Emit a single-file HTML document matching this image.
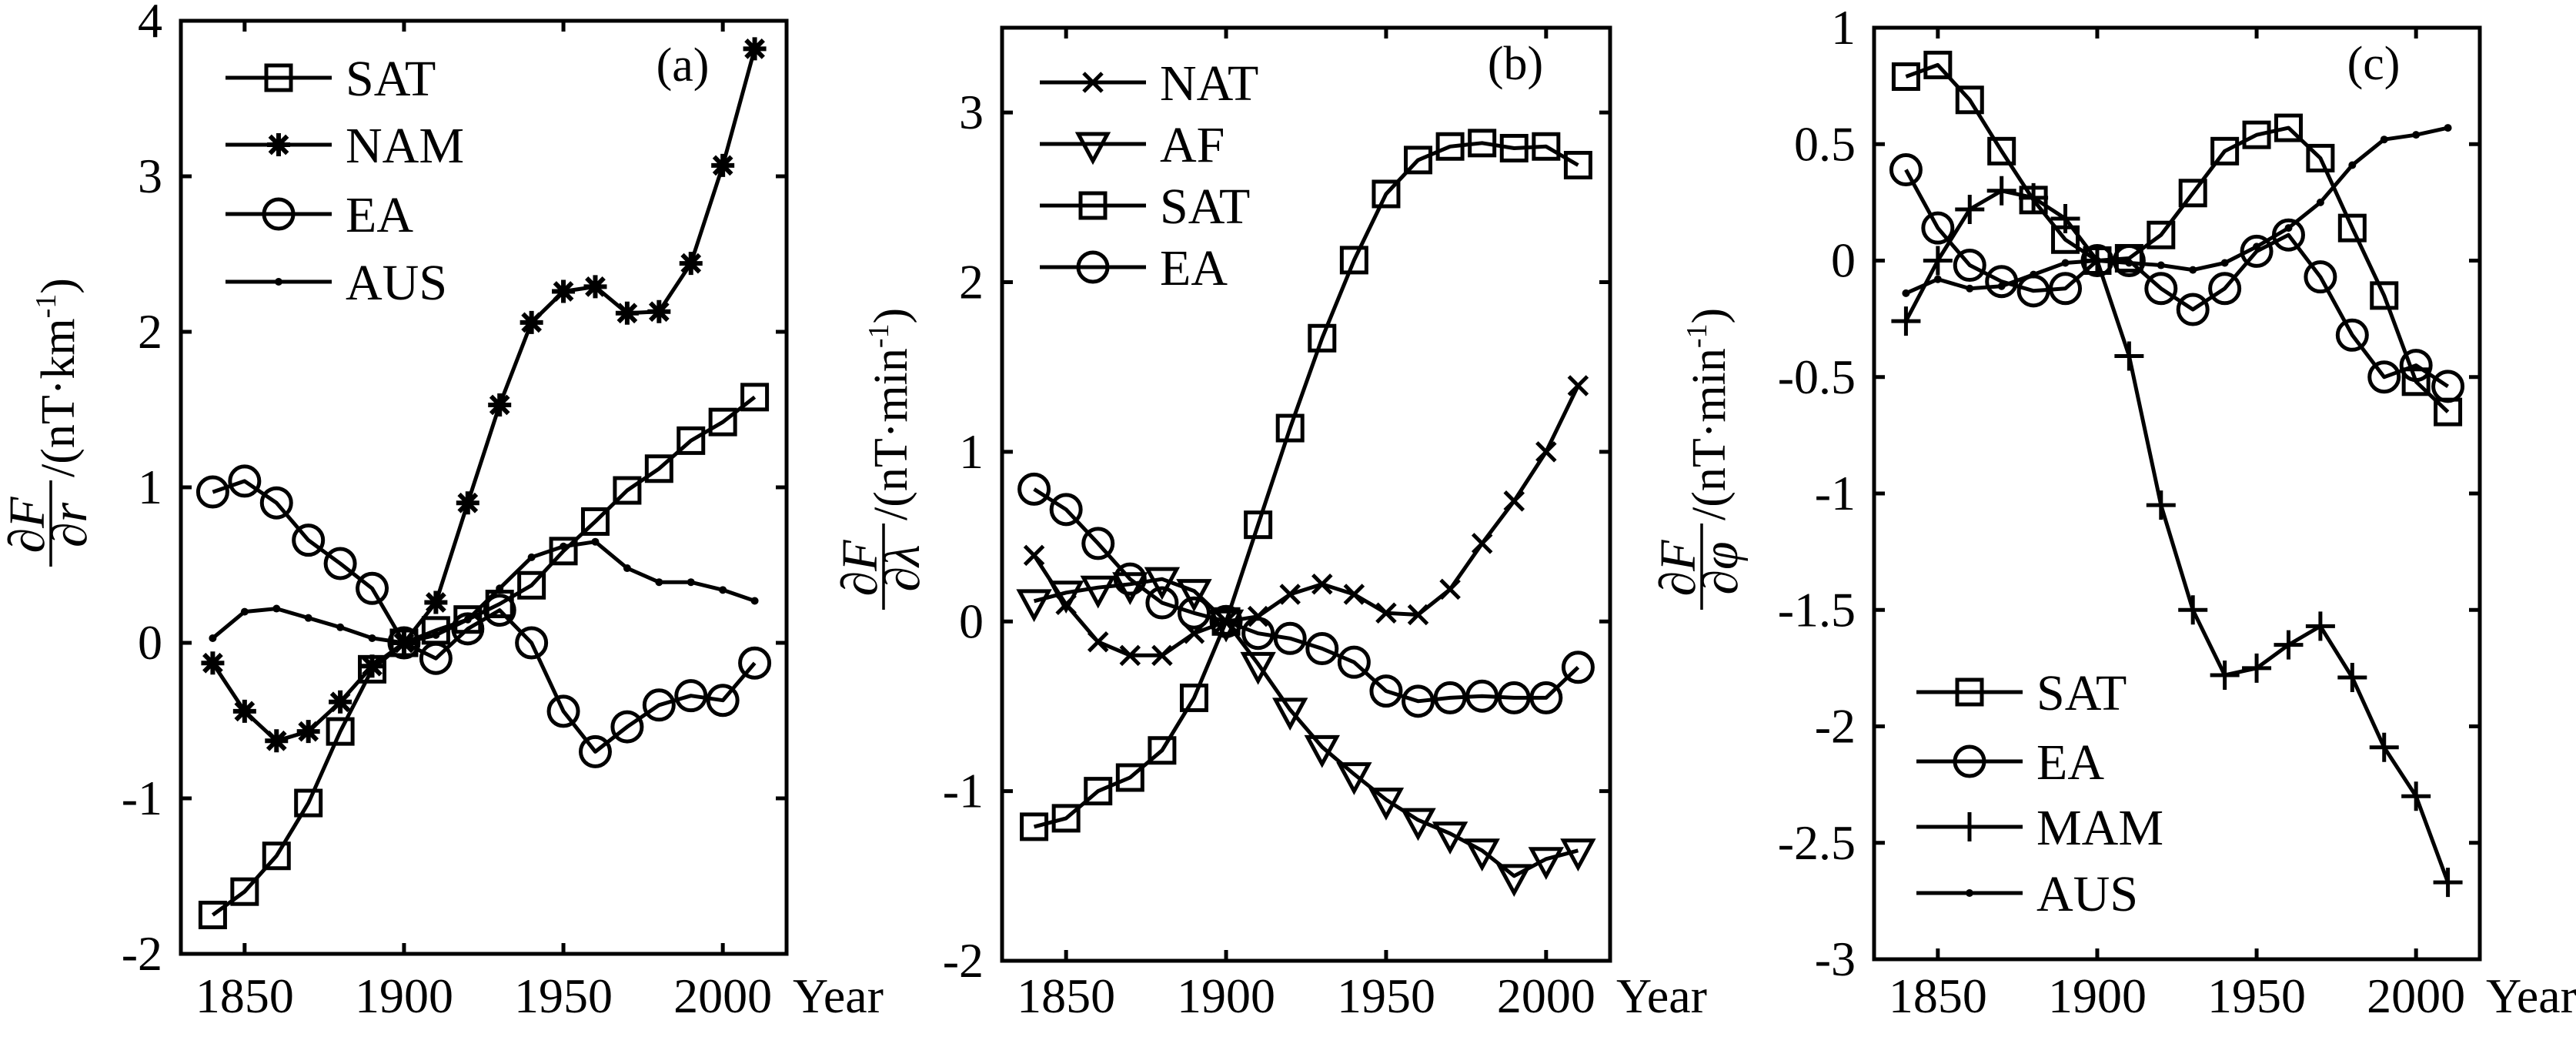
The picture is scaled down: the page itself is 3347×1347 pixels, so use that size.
<!DOCTYPE html>
<html><head><meta charset="utf-8"><style>
html,body{margin:0;padding:0;background:#fff;}
svg, svg text{font-family:"Liberation Serif","Times New Roman",serif;}
</style></head><body>
<svg id="fig" width="3347" height="1342" viewBox="0 0 3347 1342" xmlns="http://www.w3.org/2000/svg" font-family="Liberation Serif, serif"></svg>
<script>
const years = [1840,1850,1860,1870,1880,1890,1900,1910,1920,1930,1940,1950,1960,1970,1980,1990,2000,2010];
const xTicks = [1850,1900,1950,2000];
// Panel a
const aSAT = [-1.75,-1.6,-1.37,-1.03,-0.57,-0.17,0,0.08,0.15,0.25,0.37,0.59,0.78,0.98,1.12,1.3,1.42,1.58];
const aNAM = [-0.13,-0.44,-0.63,-0.57,-0.38,-0.15,0,0.26,0.9,1.53,2.06,2.26,2.29,2.12,2.13,2.44,3.07,3.82];
const aEA  = [0.97,1.04,0.9,0.66,0.51,0.35,0,-0.1,0.09,0.21,0.0,-0.44,-0.7,-0.54,-0.4,-0.34,-0.37,-0.13];
const aAUS = [0.03,0.2,0.22,0.16,0.1,0.03,0,0.05,0.15,0.35,0.55,0.62,0.65,0.48,0.39,0.39,0.34,0.27];
const aYTicks = [-2,-1,0,1,2,3,4];
// Panel b
const bNAT = [0.39,0.1,-0.12,-0.2,-0.2,-0.07,0,0.03,0.16,0.22,0.16,0.05,0.04,0.19,0.46,0.71,1.0,1.39];
const bAF  = [0.12,0.17,0.2,0.22,0.25,0.18,0,-0.25,-0.52,-0.74,-0.9,-1.05,-1.17,-1.25,-1.35,-1.5,-1.4,-1.35];
const bSAT = [-1.21,-1.16,-1.0,-0.92,-0.76,-0.45,0,0.57,1.14,1.67,2.13,2.52,2.72,2.8,2.82,2.79,2.8,2.69];
const bEA  = [0.78,0.66,0.46,0.25,0.11,0.05,0,-0.07,-0.1,-0.16,-0.24,-0.41,-0.47,-0.45,-0.44,-0.45,-0.45,-0.27];
const bYTicks = [-2,-1,0,1,2,3];
// Panel c
const cSAT = [0.79,0.84,0.69,0.47,0.26,0.09,0,0.01,0.11,0.29,0.47,0.54,0.57,0.44,0.14,-0.15,-0.52,-0.65];
const cEA  = [0.39,0.14,-0.02,-0.09,-0.13,-0.12,0,0.0,-0.12,-0.21,-0.12,0.04,0.11,-0.07,-0.32,-0.5,-0.45,-0.54];
const cMAM = [-0.26,0.0,0.22,0.3,0.27,0.18,0,-0.41,-1.05,-1.5,-1.78,-1.75,-1.65,-1.57,-1.79,-2.09,-2.3,-2.67];
const cAUS = [-0.14,-0.08,-0.12,-0.11,-0.06,-0.01,0,-0.01,-0.02,-0.04,-0.01,0.06,0.14,0.25,0.41,0.52,0.54,0.57];
const cYTicks = [-3,-2.5,-2,-1.5,-1,-0.5,0,0.5,1];

const NS="http://www.w3.org/2000/svg";
const FF='Liberation Serif, Times New Roman, serif';
const svg=document.getElementById('fig');
function el(tag,attrs,parent){const e=document.createElementNS(NS,tag);for(const k in attrs)e.setAttribute(k,attrs[k]);if(tag==='text')e.setAttribute('font-family',FF);(parent||svg).appendChild(e);return e;}
const SW=5;
function marker(g,type,x,y){
  let m;
  if(type==='square'){m=el('rect',{x:x-16,y:y-16,width:32,height:32,fill:'none',stroke:'#000','stroke-width':SW},g);}
  else if(type==='circle'){m=el('circle',{cx:x,cy:y,r:19,fill:'none',stroke:'#000','stroke-width':SW},g);}
  else if(type==='star'){const r=15;m=el('path',{d:`M${x-r} ${y}H${x+r}M${x} ${y-r}V${y+r}M${x-r*0.75} ${y-r*0.75}L${x+r*0.75} ${y+r*0.75}M${x-r*0.75} ${y+r*0.75}L${x+r*0.75} ${y-r*0.75}`,stroke:'#000','stroke-width':SW+1,fill:'none'},g);}
  else if(type==='x'){const r=12;m=el('path',{d:`M${x-r} ${y-r}L${x+r} ${y+r}M${x-r} ${y+r}L${x+r} ${y-r}`,stroke:'#000','stroke-width':SW,fill:'none'},g);}
  else if(type==='plus'){const r=19;m=el('path',{d:`M${x-r} ${y}H${x+r}M${x} ${y-r}V${y+r}`,stroke:'#000','stroke-width':SW,fill:'none'},g);}
  else if(type==='tri'){m=el('path',{d:`M${x-19} ${y-13}H${x+19}L${x} ${y+22}Z`,stroke:'#000','stroke-width':SW,fill:'none'},g);}
  else if(type==='dot'){m=el('circle',{cx:x,cy:y,r:5,fill:'#000'},g);}
  
  
}
function panel(p){
  const g=el('g',{});
  
  
  const sx=v=>p.L+(v-1830)/(2020-1830)*(p.R-p.L);
  const sy=v=>p.B-(v-p.ymin)/(p.ymax-p.ymin)*(p.B-p.T);
  p.series.forEach(s=>{
    const sg=el('g',{},g);
    
    
    const d=years.map((yr,i)=>(i?'L':'M')+sx(yr).toFixed(1)+' '+sy(s.data[i]).toFixed(1)).join('');
    const path=el('path',{d:d,fill:'none',stroke:'#000','stroke-width':SW,'stroke-linejoin':'round'},sg);
    
    
    years.forEach((yr,i)=>marker(sg,s.m,sx(yr),sy(s.data[i])));
  });
  const box=el('rect',{x:p.L,y:p.T,width:p.R-p.L,height:p.B-p.T,fill:'none',stroke:'#000','stroke-width':SW},g);
  
  
  const tk=14;
  xTicks.forEach(t=>{
    const x=sx(t);
    el('path',{d:`M${x} ${p.B}V${p.B-tk}M${x} ${p.T}V${p.T+tk}`,stroke:'#000','stroke-width':SW},g);
    const tx=el('text',{x:x,y:1315,'font-size':64,'text-anchor':'middle'},g);
    tx.textContent=t;
    
    
  });
  p.yt.forEach(t=>{
    const y=sy(t);
    el('path',{d:`M${p.L} ${y}H${p.L+tk}M${p.R} ${y}H${p.R-tk}`,stroke:'#000','stroke-width':SW},g);
    const tx=el('text',{x:p.L-24,y:y+21,'font-size':64,'text-anchor':'end'},g);
    tx.textContent=t;
    
    
  });
  const yr=el('text',{x:p.R+8,y:1315,'font-size':64},g);
  yr.textContent='Year';
  
  
  const lab=el('text',{x:p.labX,y:p.labY,'font-size':62,'text-anchor':'middle'},g);
  lab.textContent='('+p.id+')';
  
  
  const lg=el('g',{},g);
  
  
  p.series.forEach((s,i)=>{
    const y=p.legY[i];
    const e=el('g',{},lg);
    
    
    el('path',{d:`M${p.legX} ${y}H${p.legX+138}`,stroke:'#000','stroke-width':SW},e);
    marker(e,s.m,p.legX+69,y);
    const t=el('text',{x:p.legX+156,y:y+23,'font-size':66},e);
    t.textContent=s.name;
  });
  const yl=el('g',{transform:`translate(${p.ylx},${p.yly}) rotate(-90)`},g);
  
  
  const num=el('text',{x:58,y:-9,'font-size':66,'text-anchor':'middle'},yl);
  num.innerHTML='∂<tspan font-style="italic">F</tspan>';
  el('path',{d:'M4 0H116',stroke:'#000','stroke-width':3.5},yl);
  const den=el('text',{x:58,y:46,'font-size':66,'text-anchor':'middle'},yl);
  den.innerHTML='∂<tspan font-style="italic">'+p.sym+'</tspan>';
  const rest=el('text',{x:120,y:30,'font-size':62},yl);
  rest.innerHTML='/(nT·'+p.unit+'<tspan dy="-24" font-size="38">-1</tspan><tspan dy="24">)</tspan>';
}
panel({id:'a',L:235,R:1022,T:27,B:1239,ymin:-2,ymax:4,yt:aYTicks,labX:887,labY:105,
  series:[{name:'SAT',data:aSAT,m:'square'},{name:'NAM',data:aNAM,m:'star'},{name:'EA',data:aEA,m:'circle'},{name:'AUS',data:aAUS,m:'dot'}],
  legX:293,legY:[101,188,278,366],ylx:66,yly:740,sym:'r',unit:'km'});
panel({id:'b',L:1302,R:2092,T:36,B:1248,ymin:-2,ymax:3.5,yt:bYTicks,labX:1969,labY:103,
  series:[{name:'NAT',data:bNAT,m:'x'},{name:'AF',data:bAF,m:'tri'},{name:'SAT',data:bSAT,m:'square'},{name:'EA',data:bEA,m:'circle'}],
  legX:1351,legY:[107,187,267,347],ylx:1148,yly:796,sym:'λ',unit:'min'});
panel({id:'c',L:2435,R:3222,T:36,B:1246,ymin:-3,ymax:1,yt:cYTicks,labX:3084,labY:103,
  series:[{name:'SAT',data:cSAT,m:'square'},{name:'EA',data:cEA,m:'circle'},{name:'MAM',data:cMAM,m:'plus'},{name:'AUS',data:cAUS,m:'dot'}],
  legX:2490,legY:[899,989,1074,1160],ylx:2211,yly:796,sym:'φ',unit:'min'});
</script>
</body></html>
